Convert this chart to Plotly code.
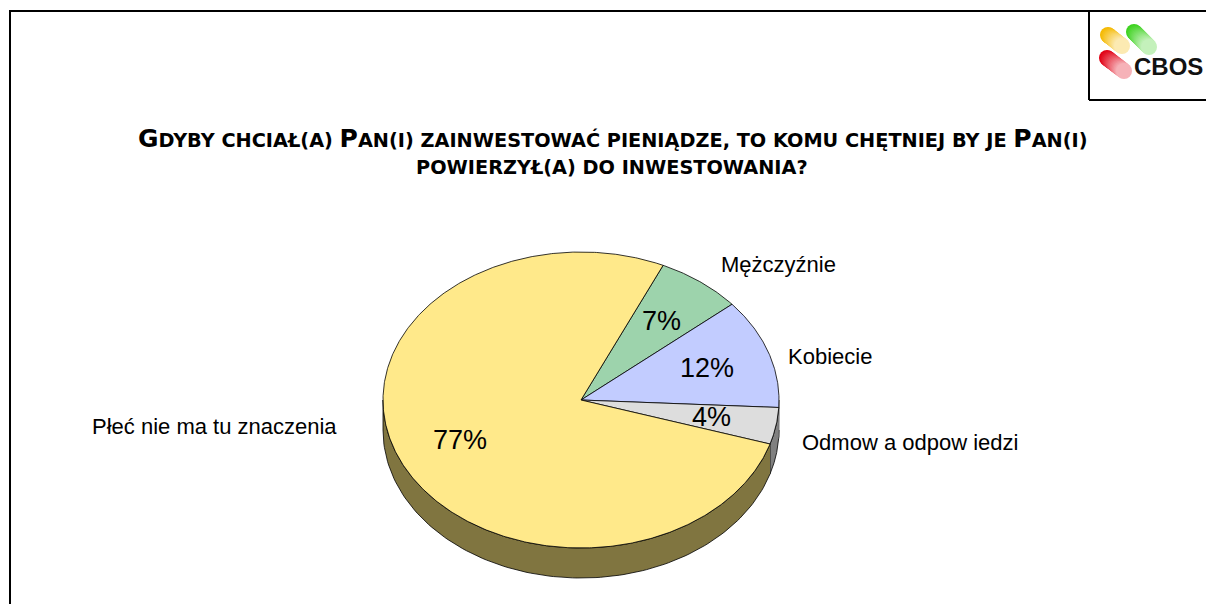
import numpy as np
import plotly.graph_objects as go

# ---- data ----
categories = ["Mężczyźnie", "Kobiecie", "Odmow a odpow iedzi", "Płeć nie ma tu znaczenia"]
values = [7, 12, 4, 77]
pct_labels = ["7%", "12%", "4%", "77%"]
top_colors = ["#9DD3AC", "#C2CCFF", "#DDDDDD", "#FFE98A"]
side_colors = ["#4E6A56", "#606680", "#808080", "#807540"]

# ---- geometry (layout) ----
W, H = 1206, 604
CX, CY, RX, RY, DEPTH = 581, 400, 198, 148, 30
START = 65.5  # degrees, slices run clockwise
label_pos = [(719, 264, "left"), (786, 356, "left"), (800, 442, "left"), (339, 426, "right")]

fig = go.Figure()

def ex(t):
    return CX + RX * np.cos(np.radians(t))

def ey(t, off=0):
    return CY - RY * np.sin(np.radians(t)) + off

total = sum(values)
bounds = []
cum = 0
for v in values:
    a0 = START - cum / total * 360
    a1 = a0 - v / total * 360
    bounds.append((a0, a1))
    cum += v

# sides (visible lower half)
for (a0, a1), col in zip(bounds, side_colors):
    for lo_w, hi_w in [(-180, 0), (-540, -360)]:
        hi = min(a0, hi_w)
        lo = max(a1, lo_w)
        if hi - lo <= 0.01:
            continue
        t = np.linspace(hi, lo, 120)
        xs = list(ex(t)) + list(ex(t[::-1]))
        ys = list(ey(t)) + list(ey(t[::-1], DEPTH))
        fig.add_trace(go.Scatter(x=xs, y=ys, fill="toself", fillcolor=col, mode="lines",
                                 line=dict(color="black", width=0.8), hoverinfo="skip",
                                 showlegend=False))

# top faces
for (a0, a1), col in zip(bounds, top_colors):
    n = max(int(abs(a0 - a1) * 2), 10)
    t = np.linspace(a0, a1, n)
    xs = [CX] + list(ex(t)) + [CX]
    ys = [CY] + list(ey(t)) + [CY]
    fig.add_trace(go.Scatter(x=xs, y=ys, fill="toself", fillcolor=col, mode="lines",
                             line=dict(color="black", width=0.8), hoverinfo="skip",
                             showlegend=False))

annotations = []
# percent labels
for (a0, a1), lab in zip(bounds, pct_labels):
    mid = (a0 + a1) / 2
    annotations.append(dict(x=CX + 0.67 * RX * np.cos(np.radians(mid)),
                            y=CY - 0.67 * RY * np.sin(np.radians(mid)),
                            text=lab, showarrow=False, xanchor="center", yanchor="middle",
                            font=dict(family="Liberation Sans, Arial", size=27, color="black")))
# category labels
for cat, (lx, ly, anc) in zip(categories, label_pos):
    annotations.append(dict(x=lx, y=ly, text=cat, showarrow=False, xanchor=anc, yanchor="middle",
                            font=dict(family="Liberation Sans, Arial", size=22, color="black")))

def big(c):
    return "<span style='font-size:25px'>" + c + "</span>"

title1 = big("G") + "DYBY CHCIAŁ(A) " + big("P") + "AN(I) ZAINWESTOWAĆ PIENIĄDZE, TO KOMU CHĘTNIEJ BY JE " + big("P") + "AN(I)"
title2 = "POWIERZYŁ(A) DO INWESTOWANIA?"
tfont = dict(family="DejaVu Sans, Liberation Sans", size=19.3, color="black")
annotations.append(dict(x=612, y=138, text="<b>" + title1 + "</b>", showarrow=False,
                        xanchor="center", yanchor="middle", font=tfont))
annotations.append(dict(x=612, y=167, text="<b>" + title2 + "</b>", showarrow=False,
                        xanchor="center", yanchor="middle", font=tfont))

# logo (gradient capsules)
logo_strokes = [((1108, 35), (1122, 46), (245, 185, 0)),
                ((1134, 32), (1149, 47), (60, 210, 30)),
                ((1107, 58), (1124, 71), (225, 0, 20))]
for (x0, y0), (x1, y1), (r, g, b) in logo_strokes:
    n = 16
    fr = np.linspace(0, 1, n)
    xs = x0 + (x1 - x0) * fr
    ys = y0 + (y1 - y0) * fr
    cols = [f"rgb({int(r + (255 - r) * f * 0.7)},{int(g + (255 - g) * f * 0.7)},{int(b + (255 - b) * f * 0.7)})"
            for f in fr]
    fig.add_trace(go.Scatter(x=xs, y=ys, mode="markers",
                             marker=dict(color=cols, size=16, line=dict(width=0)),
                             hoverinfo="skip", showlegend=False))
annotations.append(dict(x=1168, y=66, text="<b>CBOS</b>", showarrow=False, xanchor="center",
                        yanchor="middle",
                        font=dict(family="Liberation Sans, Arial", size=24, color="#111111")))

shapes = [
    dict(type="line", x0=10, y0=605, x1=10, y1=11, line=dict(color="black", width=2)),
    dict(type="line", x0=9, y0=11, x1=1207, y1=11, line=dict(color="black", width=2)),
    dict(type="line", x0=1089, y0=11, x1=1089, y1=100, line=dict(color="black", width=2)),
    dict(type="line", x0=1089, y0=100, x1=1207, y1=100, line=dict(color="black", width=2)),
]

fig.update_layout(
    width=W, height=H, autosize=False,
    margin=dict(l=0, r=0, t=0, b=0),
    paper_bgcolor="white", plot_bgcolor="white",
    xaxis=dict(range=[0, W], visible=False, fixedrange=True),
    yaxis=dict(range=[H, 0], visible=False, fixedrange=True),
    annotations=annotations, shapes=shapes, showlegend=False,
)
fig.write_html("out.html", config={"displayModeBar": False},
               post_script="document.body.style.margin='0';document.body.style.overflow='hidden';")
